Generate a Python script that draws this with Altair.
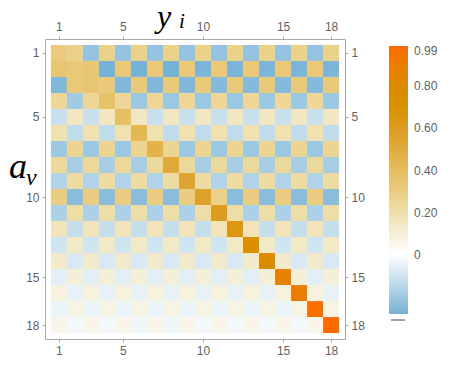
import altair as alt
import pandas as pd

rows = list(range(1, 19))
cols = list(range(1, 19))

m01 = [.31, .28, -.22, .28, -.22, .28, -.22, .28, -.22, .28, -.22, .28, -.22, .28, -.22, .28, -.22, .28]
m02 = [.35, .33, .34, -.28, .33, -.28, .33, -.28, .33, -.27, .33, -.27, .33, -.27, .33, -.27, .33, -.27]
m03 = [-.26, .33, .35, .32, -.26, .32, -.26, .32, -.26, .32, -.25, .32, -.25, .32, -.25, .32, -.25, .32]
m04 = [.25, -.19, .25, .37, .25, -.20, .25, -.20, .25, -.20, .25, -.20, .25, -.20, .25, -.20, .25, -.20]
m05 = [-.11, .15, -.11, .15, .38, .15, -.11, .15, -.11, .15, -.11, .15, -.11, .15, -.11, .15, -.11, .15]
m06 = [.19, -.13, .19, -.13, .19, .43, .19, -.13, .19, -.13, .19, -.13, .19, -.13, .19, -.13, .19, -.13]
m07 = [-.20, .26, -.20, .26, -.20, .26, .46, .26, -.20, .26, -.20, .26, -.20, .26, -.20, .26, -.20, .26]
m08 = [.24, -.18, .24, -.18, .24, -.18, .24, .50, .24, -.18, .24, -.18, .24, -.18, .24, -.18, .24, -.18]
m09 = [-.16, .22, -.16, .22, -.16, .22, -.16, .22, .54, .22, -.16, .22, -.16, .22, -.16, .22, -.16, .22]
m10 = [.30, -.24, .30, -.24, .30, -.24, .30, -.24, .30, .56, .28, -.24, .30, -.24, .30, -.24, .30, -.24]
m11 = [-.17, .21, -.17, .21, -.17, .21, -.17, .21, -.17, .21, .60, .21, -.17, .21, -.17, .21, -.17, .21]
m12 = [.17, -.12, .17, -.12, .17, -.12, .17, -.12, .17, -.12, .17, .65, .17, -.12, .17, -.12, .17, -.12]
m13 = [-.10, .14, -.10, .14, -.10, .14, -.10, .14, -.10, .14, -.10, .14, .72, .14, -.10, .14, -.10, .14]
m14 = [.13, -.08, .13, -.08, .13, -.08, .13, -.08, .13, -.08, .13, -.08, .13, .80, .13, -.08, .13, -.08]
m15 = [-.06, .10, -.06, .10, -.06, .10, -.06, .10, -.06, .10, -.06, .10, -.06, .10, .86, .10, -.06, .10]
m16 = [.085, -.05, .085, -.05, .085, -.05, .085, -.05, .085, -.05, .085, -.05, .085, -.05, .085, .90, .085, -.05]
m17 = [-.04, .07, -.04, .07, -.04, .07, -.04, .07, -.04, .07, -.04, .07, -.04, .07, -.04, .07, .96, .07]
m18 = [.06, -.025, .06, -.025, .06, -.03, .06, -.03, .06, -.025, .06, -.025, .06, -.025, .06, -.025, .06, .99]
matrix = [m01, m02, m03, m04, m05, m06, m07, m08, m09, m10, m11, m12, m13, m14, m15, m16, m17, m18]

tick_values = [1, 5, 10, 15, 18]
legend_values = [0, 0.2, 0.4, 0.6, 0.8, 0.99]
color_domain = [-0.28, 0, 0.1, 0.2, 0.3, 0.4, 0.5, 0.6, 0.7, 0.8, 0.9, 0.99]
color_range = ["#76b2d6", "#ffffff", "#f5efd8", "#efdfab", "#eacd82", "#e6bd5e",
               "#e1ab3c", "#dc9c22", "#d99200", "#dc8a00", "#ec7d00", "#ff6a00"]

records = [{"row": r, "col": c, "v": matrix[r - 1][c - 1]} for r in rows for c in cols]
df = pd.DataFrame(records)

xs = alt.Scale(domain=[0.13, 18.87], nice=False, zero=False)
ys = alt.Scale(domain=[0.13, 18.87], nice=False, zero=False, reverse=True)

GRAY = "#5f5f5f"
FRAME = "#a8a8a8"


def axis(orient):
    return alt.Axis(orient=orient, values=tick_values, format="d", title=None, grid=False,
                    domain=False, ticks=True, tickSize=3, tickColor=FRAME,
                    labelFont="Liberation Sans", labelFontSize=12, labelColor=GRAY,
                    labelPadding=3)


base = alt.Chart(df).transform_calculate(
    x0="datum.col - 0.5", x1="datum.col + 0.5",
    y0="datum.row - 0.5", y1="datum.row + 0.5")

heat = base.mark_rect(strokeWidth=0).encode(
    x=alt.X("x0:Q", scale=xs, axis=axis("bottom")),
    x2="x1:Q",
    y=alt.Y("y0:Q", scale=ys, axis=axis("left")),
    y2="y1:Q",
    color=alt.Color("v:Q",
                    scale=alt.Scale(domain=color_domain, range=color_range, interpolate="rgb"),
                    legend=alt.Legend(orient="none", legendX=344, legendY=7, title=None,
                                      direction="vertical", gradientLength=268,
                                      gradientThickness=19, gradientStrokeWidth=0,
                                      values=legend_values, labelOverlap=False,
                                      labelExpr="datum.value == 0 ? '0' : format(datum.value, '.2f')",
                                      labelFont="Liberation Sans", labelFontSize=12,
                                      labelColor=GRAY, labelOffset=6, padding=0)),
)

other_axes = base.mark_point(opacity=0).encode(
    x=alt.X("col:Q", scale=xs, axis=axis("top")),
    y=alt.Y("row:Q", scale=ys, axis=axis("right")),
)

title_main = ["y", "a"]
title_sub = ["i", "ν"]

t_y = alt.Chart(pd.DataFrame({"t": [title_main[0]]})).mark_text(
    font="Liberation Serif", fontStyle="italic", fontSize=32, align="left",
    baseline="alphabetic", color="black").encode(x=alt.value(112), y=alt.value(-12), text="t:N")
t_i = alt.Chart(pd.DataFrame({"t": [title_sub[0]]})).mark_text(
    font="Liberation Serif", fontStyle="italic", fontSize=21, align="left",
    baseline="alphabetic", color="black").encode(x=alt.value(134), y=alt.value(-11), text="t:N")
t_a = alt.Chart(pd.DataFrame({"t": [title_main[1]]})).mark_text(
    font="Liberation Serif", fontStyle="italic", fontSize=36, align="left",
    baseline="alphabetic", color="black").encode(x=alt.value(-36), y=alt.value(139), text="t:N")
t_nu = alt.Chart(pd.DataFrame({"t": [title_sub[1]]})).mark_text(
    font="Liberation Serif", fontStyle="italic", fontSize=24, align="left",
    baseline="alphabetic", color="black").encode(x=alt.value(-19), y=alt.value(146), text="t:N")

dash = alt.Chart(pd.DataFrame({"k": [0]})).mark_rule(color="#444444", strokeWidth=1).encode(
    x=alt.value(346), x2=alt.value(360), y=alt.value(281))

chart = alt.layer(heat, other_axes, t_y, t_i, t_a, t_nu, dash).resolve_axis(
    x="independent", y="independent"
).properties(
    width=300, height=300, autosize="none",
    padding={"left": 37, "top": 31, "right": 103, "bottom": 30},
).configure_view(stroke=FRAME, strokeWidth=1)

chart.save("out.html", embed_options={"renderer": "svg", "actions": False})
